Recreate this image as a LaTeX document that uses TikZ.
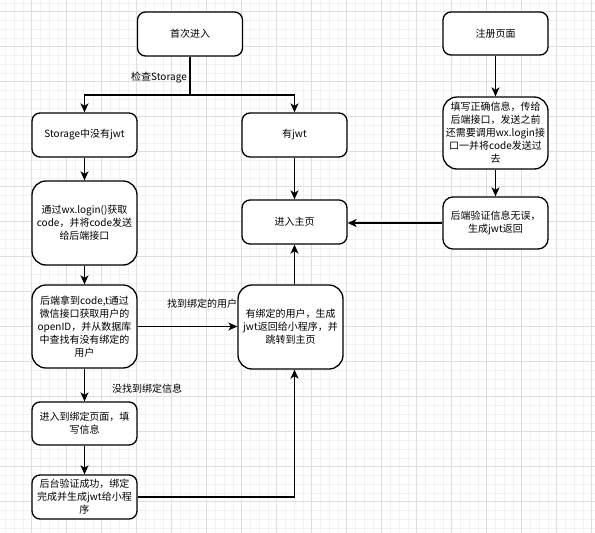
\documentclass[tikz,border=0pt]{standalone}
\usepackage{fontspec}
\newfontfamily\cjk{Noto Sans CJK SC}
\usetikzlibrary{arrows.meta}
\tikzset{
  box/.style={draw=black, line width=1.3pt, fill=white, rounded corners=8pt,
    minimum width=105pt, inner sep=0pt, align=center,
    font=\cjk\fontsize{10pt}{13pt}\selectfont},
  tallbox/.style={box, rounded corners=14pt},
  conn/.style={line width=1.6pt, -{Stealth[length=9pt,width=8pt,inset=2.5pt]}},
  plain/.style={line width=1.6pt},
  lbl/.style={font=\cjk\fontsize{10pt}{13pt}\selectfont, inner sep=1pt},
  minorgrid/.style={draw=black!5, line width=0.6pt},
  majorgrid/.style={draw=black!13, line width=0.8pt}
}
\begin{document}
\begin{tikzpicture}[x=1pt,y=-1pt]
\useasboundingbox (0,0) rectangle (595,533);
\fill[white] (0,0) rectangle (595,533);
% grid
\foreach \k in {-4,...,64} {
  \pgfmathsetmacro{\p}{31.7+8.75*\k}
  \draw[minorgrid] (\p,0) -- (\p,533);
}
\foreach \k in {-2,...,60} {
  \pgfmathsetmacro{\p}{11.7+8.75*\k}
  \draw[minorgrid] (0,\p) -- (595,\p);
}
\foreach \k in {-1,...,16} {
  \pgfmathsetmacro{\p}{31.7+35*\k}
  \draw[majorgrid] (\p,0) -- (\p,533);
}
\foreach \k in {-1,...,15} {
  \pgfmathsetmacro{\p}{11.7+35*\k}
  \draw[majorgrid] (0,\p) -- (595,\p);
}

% nodes
\node[box, minimum height=44pt] (start) at (190,34) {首次进入};
\node[box, minimum height=43pt] (reg) at (495.5,33.5) {注册页面};
\node[box, minimum height=44pt] (nojwt) at (84.5,135) {Storage中没有jwt};
\node[box, minimum height=44pt] (hasjwt) at (294.5,135) {有jwt};
\node[tallbox, minimum height=84pt] (login) at (84.5,223) {通过wx.login()获取\\code，并将code发送\\给后端接口};
\node[box, minimum height=44pt] (home) at (294.5,222) {进入主页};
\node[tallbox, minimum height=72pt] (fill) at (495.5,133) {填写正确信息，传给\\后端接口，发送之前\\还需要调用wx.login接\\口一并将code发送过\\去};
\node[box, rounded corners=10pt, minimum height=52pt] (backok) at (495.5,223) {后端验证信息无误，\\生成jwt返回};
\node[tallbox, minimum height=83pt] (back) at (84.5,326.5) {后端拿到code,t通过\\微信接口获取用户的\\openID，并从数据库\\中查找有没有绑定的\\用户};
\node[tallbox, minimum height=84pt] (bound) at (290.5,327) {有绑定的用户，生成\\jwt返回给小程序，并\\跳转到主页};
\node[box, minimum height=43pt] (bindpage) at (84.5,423.5) {进入到绑定页面，填\\写信息};
\node[box, minimum height=44pt] (verify) at (84.5,497) {后台验证成功，绑定\\完成并生成jwt给小程\\序};

% connectors
\coordinate (split) at (190,95);
\draw[plain] (start.south) -- (split);
\draw[conn] (split) -| (nojwt.north);
\draw[conn] (split) -| (hasjwt.north);
\node[lbl, anchor=east] (chk) at (188,78) {检查Storage};
\draw[conn] (nojwt.south) -- (login.north);
\draw[conn] (hasjwt.south) -- (home.north);
\draw[conn] (login.south) -- (back.north);
\draw[conn] (back.east) -- (back.east -| bound.west);
\node[lbl] (found) at (202,304) {找到绑定的用户};
\draw[conn] (back.south) -- (bindpage.north);
\node[lbl] (notfound) at (147,389) {没找到绑定信息};
\draw[conn] (bindpage.south) -- (verify.north);
\draw[conn] (verify.east) -| (bound.south -| home.south);
\draw[conn] (bound.north -| home.south) -- (home.south);
\draw[conn] (reg.south) -- (fill.north);
\draw[conn] (fill.south) -- (backok.north);
\draw[conn] (backok.west) -- (backok.west -| home.east);
\end{tikzpicture}
\end{document}
